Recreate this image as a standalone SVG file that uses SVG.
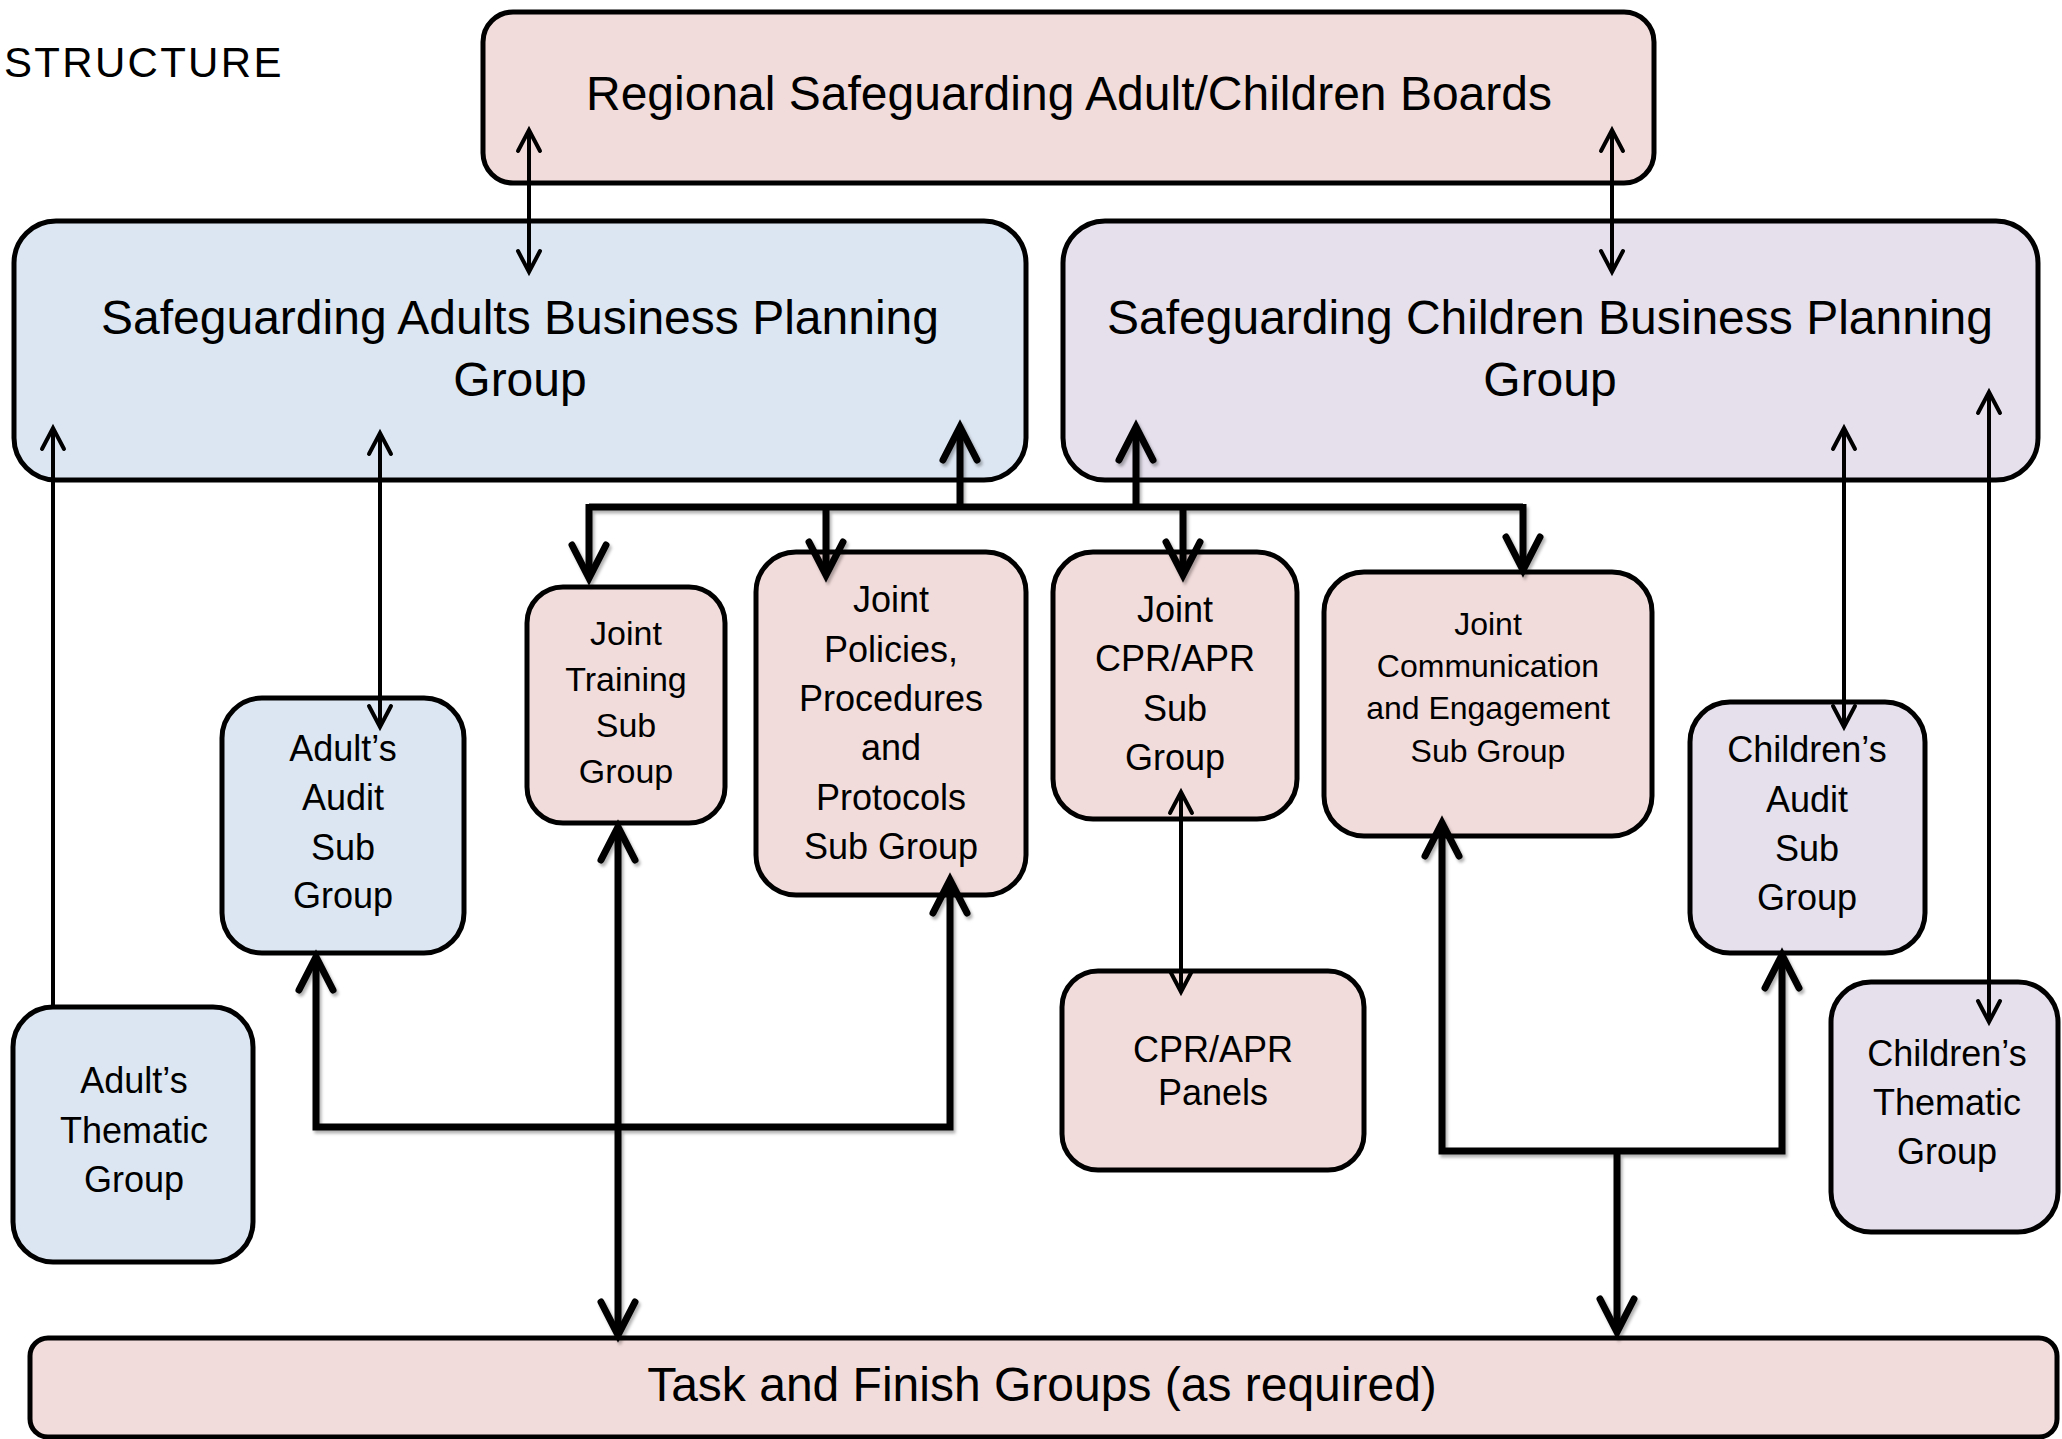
<svg xmlns="http://www.w3.org/2000/svg" width="2062" height="1439" viewBox="0 0 2062 1439">
  <defs>
    <style>
      .box { stroke: #000; stroke-width: 5; }
      .pink { fill: #F2DCDB; }
      .blue { fill: #DCE6F2; }
      .lilac { fill: #E5E0EC; }
      text { font-family: "Liberation Sans", Arial, sans-serif; fill: #000; text-anchor: middle; }
      .big { font-size: 48px; }
      .mid { font-size: 36px; }
      .thin { fill: none; stroke: #000; stroke-width: 4; marker-end: url(#ahThin); }
      .thin2 { marker-start: url(#ahThin); }
      .thick { fill: none; stroke: #000; stroke-width: 7; stroke-linejoin: miter; }
      .thickA { marker-end: url(#ahThick); }
      .thickS { marker-start: url(#ahThick); }
    </style>
    <marker id="ahThin" markerUnits="userSpaceOnUse" viewBox="-30 -20 40 40" markerWidth="40" markerHeight="40" refX="0" refY="0" orient="auto-start-reverse">
      <path d="M-21,-11 L0,0 L-21,11" fill="none" stroke="#000" stroke-width="4" stroke-linecap="round" stroke-linejoin="miter"/>
    </marker>
    <marker id="ahThick" markerUnits="userSpaceOnUse" viewBox="-45 -30 60 60" markerWidth="60" markerHeight="60" refX="0" refY="0" orient="auto-start-reverse">
      <path d="M-33,-17 L0,0 L-33,17" fill="none" stroke="#000" stroke-width="7" stroke-linecap="round" stroke-linejoin="miter"/>
    </marker>
    <filter id="sh" x="-5%" y="-5%" width="110%" height="110%">
      <feDropShadow dx="2" dy="3" stdDeviation="1.5" flood-color="#000" flood-opacity="0.3"/>
    </filter>
  </defs>

  <rect width="2062" height="1439" fill="#fff"/>

  <text x="4" y="77" style="font-size:42px; text-anchor:start; letter-spacing:2.3px">STRUCTURE</text>

  <g id="regional">
    <rect class="box pink" x="483" y="12" width="1171" height="171" rx="30"/>
    <text class="big" x="1069" y="110">Regional Safeguarding Adult/Children Boards</text>
  </g>

  <g id="adults-bpg">
    <rect class="box blue" x="14" y="221" width="1012" height="259" rx="42"/>
    <text class="big" x="520" y="334">Safeguarding Adults Business Planning</text>
    <text class="big" x="520" y="396">Group</text>
  </g>

  <g id="children-bpg">
    <rect class="box lilac" x="1063" y="221" width="975" height="259" rx="42"/>
    <text class="big" x="1550" y="334">Safeguarding Children Business Planning</text>
    <text class="big" x="1550" y="396">Group</text>
  </g>

  <g id="adults-audit">
    <rect class="box blue" x="222" y="698" width="242" height="255" rx="40"/>
    <text class="mid" x="343" y="761">Adult’s</text>
    <text class="mid" x="343" y="810">Audit</text>
    <text class="mid" x="343" y="860">Sub</text>
    <text class="mid" x="343" y="908">Group</text>
  </g>

  <g id="joint-training">
    <rect class="box pink" x="527" y="587" width="198" height="236" rx="36"/>
    <text x="626" y="645" style="font-size:34px">Joint</text>
    <text x="626" y="691" style="font-size:34px">Training</text>
    <text x="626" y="737" style="font-size:34px">Sub</text>
    <text x="626" y="783" style="font-size:34px">Group</text>
  </g>

  <g id="joint-policies">
    <rect class="box pink" x="756" y="552" width="270" height="343" rx="40"/>
    <text class="mid" x="891" y="612">Joint</text>
    <text class="mid" x="891" y="662">Policies,</text>
    <text class="mid" x="891" y="711">Procedures</text>
    <text class="mid" x="891" y="760">and</text>
    <text class="mid" x="891" y="810">Protocols</text>
    <text class="mid" x="891" y="859">Sub Group</text>
  </g>

  <g id="joint-cpr-apr">
    <rect class="box pink" x="1053" y="552" width="244" height="267" rx="40"/>
    <text class="mid" x="1175" y="622">Joint</text>
    <text class="mid" x="1175" y="671">CPR/APR</text>
    <text class="mid" x="1175" y="721">Sub</text>
    <text class="mid" x="1175" y="770">Group</text>
  </g>

  <g id="joint-communication">
    <rect class="box pink" x="1324" y="572" width="328" height="264" rx="40"/>
    <text x="1488" y="635" style="font-size:32px">Joint</text>
    <text x="1488" y="677" style="font-size:32px">Communication</text>
    <text x="1488" y="719" style="font-size:32px">and Engagement</text>
    <text x="1488" y="762" style="font-size:32px">Sub Group</text>
  </g>

  <g id="childrens-audit">
    <rect class="box lilac" x="1690" y="702" width="235" height="251" rx="40"/>
    <text class="mid" x="1807" y="762">Children’s</text>
    <text class="mid" x="1807" y="812">Audit</text>
    <text class="mid" x="1807" y="861">Sub</text>
    <text class="mid" x="1807" y="910">Group</text>
  </g>

  <g id="adults-thematic">
    <rect class="box blue" x="13" y="1007" width="240" height="255" rx="40"/>
    <text class="mid" x="134" y="1093">Adult’s</text>
    <text class="mid" x="134" y="1143">Thematic</text>
    <text class="mid" x="134" y="1192">Group</text>
  </g>

  <g id="cpr-apr-panels">
    <rect class="box pink" x="1062" y="971" width="302" height="199" rx="36"/>
    <text class="mid" x="1213" y="1062">CPR/APR</text>
    <text class="mid" x="1213" y="1105">Panels</text>
  </g>

  <g id="childrens-thematic">
    <rect class="box lilac" x="1831" y="982" width="227" height="250" rx="40"/>
    <text class="mid" x="1947" y="1066">Children’s</text>
    <text class="mid" x="1947" y="1115">Thematic</text>
    <text class="mid" x="1947" y="1164">Group</text>
  </g>

  <g id="task-finish">
    <rect class="box pink" x="30" y="1338" width="2027" height="99" rx="18"/>
    <text class="big" x="1042" y="1401">Task and Finish Groups (as required)</text>
  </g>

  <g id="connectors">
    <!-- thin connectors -->
    <path class="thin thin2" d="M529,130 L529,272"/>
    <path class="thin thin2" d="M1612,130 L1612,272"/>
    <path class="thin" d="M53,1007 L53,428"/>
    <path class="thin thin2" d="M380,433 L380,727"/>
    <path class="thin thin2" d="M1844,428 L1844,727"/>
    <path class="thin thin2" d="M1989,392 L1989,1022"/>
    <path class="thin thin2" d="M1181,792 L1181,992"/>

    <!-- thick connectors -->
    <g filter="url(#sh)">
      <path class="thick" d="M589,507 L1523,507"/>
      <path class="thick thickA" d="M960,507 L960,427"/>
      <path class="thick thickA" d="M1136,507 L1136,427"/>
      <path class="thick thickA" d="M589,504 L589,578"/>
      <path class="thick thickA" d="M826,507 L826,575"/>
      <path class="thick thickA" d="M1183,507 L1183,575"/>
      <path class="thick thickA" d="M1523,504 L1523,570"/>
      <path class="thick thickA thickS" d="M618,827 L618,1335"/>
      <path class="thick thickA thickS" d="M316,957 L316,1127 L950,1127 L950,880"/>
      <path class="thick thickA thickS" d="M1442,823 L1442,1151 L1782,1151 L1782,955"/>
      <path class="thick thickA" d="M1617,1151 L1617,1332"/>
    </g>
  </g>
</svg>
